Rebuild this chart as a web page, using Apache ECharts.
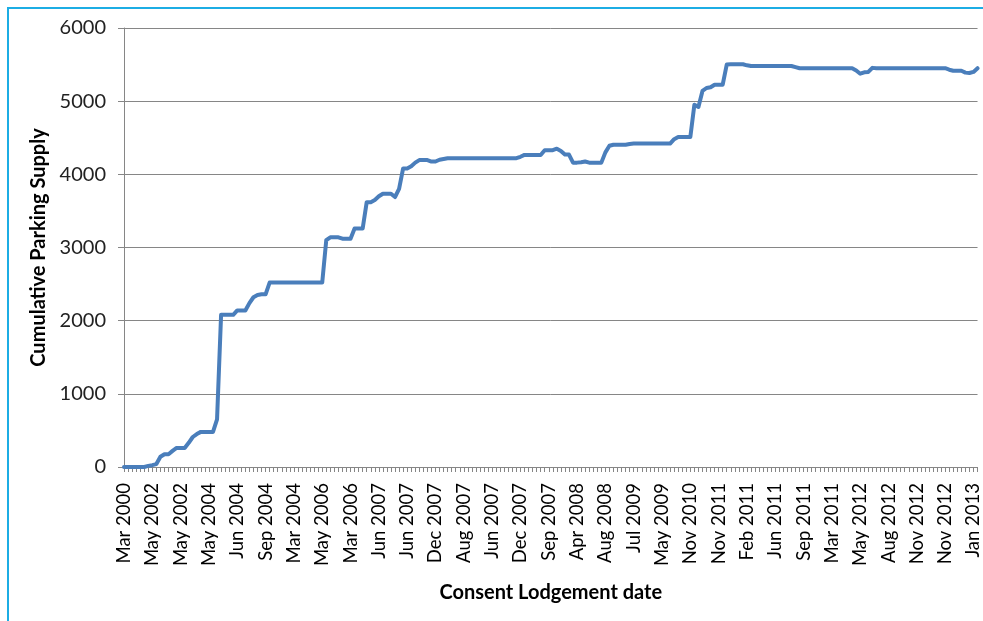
<!DOCTYPE html>
<html>
<head>
<meta charset="utf-8">
<script src="https://cdn.jsdelivr.net/npm/echarts@6/dist/echarts.min.js"></script>
<style>
html, body { margin: 0; padding: 0; background: #fff; overflow: hidden; }
.frame { position: absolute; left: 7px; top: 7px; width: 1000px; height: 640px; border-left: 2px solid #1CADE4; border-top: 2px solid #1CADE4; }
#chart { position: absolute; left: 0; top: 0; width: 983px; height: 621px; }
</style>
</head>
<body>
<div class="frame"></div>
<div id="chart"></div>
<script>
// labels shown on the axis, one every 7 categories
const tickLabels = ['Mar 2000','May 2002','May 2002','May 2004','Jun 2004','Sep 2004','Mar 2004','May 2006','Mar 2006','Jun 2007','Jun 2007',
    'Dec 2007','Aug 2007','Jun 2007','Dec 2007','Sep 2007','Apr 2008','Aug 2008','Jul 2009','May 2009','Nov 2010',
    'Nov 2011','Feb 2011','Jun 2011','Sep 2011','Mar 2011','May 2012','Aug 2012','Nov 2012','Nov 2012','Jan 2013']
const labelStep = 7

// cumulative parking supply, one value per consent
const supply = [
    0, 0, 0, 0, 0, 0, 15, 25, 40, 140,
    175, 175, 220, 260, 260, 260, 330, 410, 450, 480,
    480, 480, 480, 650, 2080, 2080, 2080, 2080, 2140, 2140,
    2140, 2240, 2320, 2350, 2360, 2360, 2520, 2520, 2520, 2520,
    2520, 2520, 2520, 2520, 2520, 2520, 2520, 2520, 2520, 2520,
    3100, 3140, 3140, 3140, 3120, 3120, 3120, 3260, 3260, 3260,
    3620, 3620, 3650, 3700, 3735, 3735, 3735, 3690, 3800, 4080,
    4080, 4110, 4160, 4195, 4195, 4195, 4175, 4175, 4200, 4210,
    4220, 4220, 4220, 4220, 4220, 4220, 4220, 4220, 4220, 4220,
    4220, 4220, 4220, 4220, 4220, 4220, 4220, 4220, 4240, 4265,
    4265, 4265, 4265, 4265, 4330, 4330, 4330, 4350, 4320, 4270,
    4270, 4160, 4160, 4165, 4175, 4160, 4160, 4160, 4160, 4300,
    4390, 4405, 4405, 4405, 4405, 4415, 4420, 4420, 4420, 4420,
    4420, 4420, 4420, 4420, 4420, 4420, 4480, 4510, 4510, 4510,
    4510, 4950, 4920, 5140, 5180, 5190, 5225, 5225, 5225, 5500,
    5505, 5505, 5505, 5505, 5490, 5480, 5480, 5480, 5480, 5480,
    5480, 5480, 5480, 5480, 5480, 5480, 5465, 5450, 5450, 5450,
    5450, 5450, 5450, 5450, 5450, 5450, 5450, 5450, 5450, 5450,
    5450, 5420, 5375, 5395, 5400, 5455, 5450, 5450, 5450, 5450,
    5450, 5450, 5450, 5450, 5450, 5450, 5450, 5450, 5450, 5450,
    5450, 5450, 5450, 5450, 5430, 5415, 5415, 5415, 5390, 5385,
    5400, 5450
]

const yTicks = { min: 0, max: 6000, step: 1000 }

// category names: the visible label every labelStep, blank otherwise
const categories = supply.map((v, i) => i % labelStep === 0 ? tickLabels[i / labelStep] : '')

const myChart = echarts.init(document.getElementById('chart'))
const font = 'Lato, "Liberation Sans", sans-serif'
const option = {
    animation: false,
    grid: { left: 124, right: 5, top: 28, bottom: 154, containLabel: false },
    xAxis: {
        type: 'category',
        data: categories,
        boundaryGap: false,
        name: 'Consent Lodgement date',
        nameLocation: 'middle',
        nameGap: 116,
        nameTextStyle: { fontFamily: font, fontSize: 20, fontWeight: 'bold', color: '#000' },
        axisLine: { lineStyle: { color: '#868686', width: 1 } },
        axisTick: { show: true, interval: 0, length: 5, lineStyle: { color: '#868686' } },
        axisLabel: {
            interval: labelStep - 1,
            rotate: 90,
            margin: 16,
            fontFamily: font,
            fontSize: 18.5,
            color: '#000'
        },
        splitLine: { show: false }
    },
    yAxis: {
        type: 'value',
        min: yTicks.min,
        max: yTicks.max,
        interval: yTicks.step,
        name: 'Cumulative Parking Supply',
        nameLocation: 'middle',
        nameGap: 67,
        nameTextStyle: { fontFamily: font, fontSize: 20, fontWeight: 'bold', color: '#000' },
        axisLine: { show: true, lineStyle: { color: '#868686', width: 1 } },
        axisTick: { show: true, length: 6, lineStyle: { color: '#868686' } },
        axisLabel: { fontFamily: font, fontSize: 20, color: '#222', margin: 18, formatter: v => String(v) },
        splitLine: { show: true, lineStyle: { color: '#868686', width: 1 } }
    },
    series: [{
        type: 'line',
        data: supply,
        symbol: 'none',
        smooth: false,
        lineStyle: { color: '#4A7EBB', width: 4, join: 'round', cap: 'round' },
        itemStyle: { color: '#4A7EBB' }
    }]
}
myChart.setOption(option)
</script>
</body>
</html>
